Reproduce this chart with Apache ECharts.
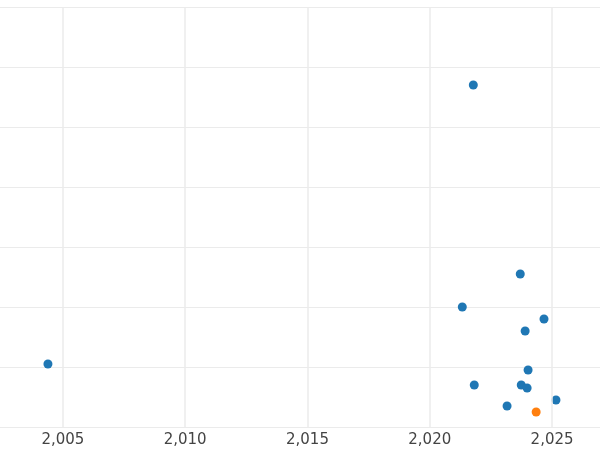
<!DOCTYPE html>
<html><head><meta charset="utf-8">
<script src="https://cdn.jsdelivr.net/npm/echarts@6/dist/echarts.min.js"></script>
<style>html,body{margin:0;padding:0}#c{width:600px;height:450px}</style>
</head><body><div id="c"></div>
<script>
const blueX = [2021.78, 2023.70, 2021.33, 2024.67, 2023.90, 2004.39, 2024.02, 2021.82, 2023.74, 2023.98, 2025.16, 2023.16];
const blueY = [5.70, 2.55, 2.00, 1.80, 1.60, 1.05, 0.95, 0.70, 0.70, 0.65, 0.45, 0.35];
const orangeX = [2024.35];
const orangeY = [0.25];
const xTicks = [2005, 2010, 2015, 2020, 2025];

const chart = echarts.init(document.getElementById('c'));
chart.setOption({
  animation: false,
  grid: {left: 0, right: 0, top: 7, bottom: 23, containLabel: false},
  xAxis: {
    type: 'value', min: 2002.43, max: 2026.96,
    splitLine: {show: false}, axisLine: {show: false}, axisTick: {show: false},
    axisLabel: {customValues: xTicks, color: '#444', fontSize: 15, fontFamily: 'DejaVu Sans', margin: 6}
  },
  yAxis: {
    type: 'value', min: 0, max: 7, interval: 1,
    axisLabel: {show: false}, axisLine: {show: false}, axisTick: {show: false},
    splitLine: {lineStyle: {color: '#ebebeb', width: 1}}
  },
  series: [
    {type: 'scatter', symbolSize: 9, itemStyle: {color: '#1f77b4', opacity: 1},
     data: blueX.map((x, i) => [x, blueY[i]]),
     markLine: {silent: true, symbol: 'none', label: {show: false},
       lineStyle: {color: '#ebebeb', width: 1.5, type: 'solid'},
       data: xTicks.map(v => ({xAxis: v}))}},
    {type: 'scatter', symbolSize: 9, itemStyle: {color: '#ff7f0e', opacity: 1},
     data: orangeX.map((x, i) => [x, orangeY[i]])}
  ]
});
</script></body></html>
